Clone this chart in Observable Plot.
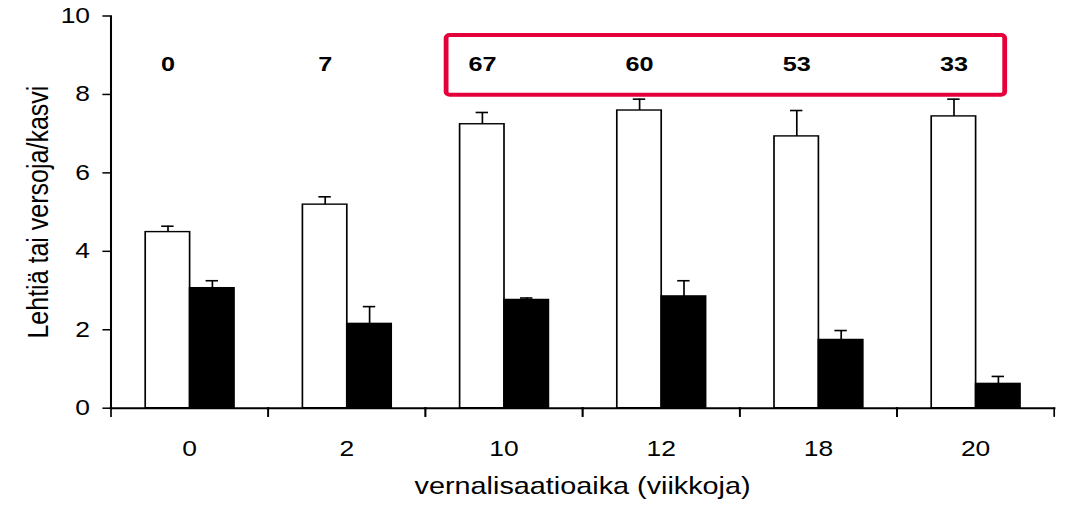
<!DOCTYPE html>
<html>
<head>
<meta charset="utf-8">
<script src="https://cdn.jsdelivr.net/npm/d3@7"></script>
<script src="https://cdn.jsdelivr.net/npm/@observablehq/plot@0.6"></script>
<style>
  html, body { margin: 0; padding: 0; background: #fff; }
  #chart svg { display: block; }
</style>
</head>
<body>
<div id="chart"></div>
<script>
// ---- data ----
const groups = ["0", "2", "10", "12", "18", "20"];
const seriesNames = ["lehtiä", "versoja"];
const whiteValues = [4.49, 5.19, 7.24, 7.59, 6.93, 7.44];
const whiteErrors = [0.15, 0.20, 0.30, 0.29, 0.66, 0.44];
const blackValues = [3.06, 2.15, 2.76, 2.85, 1.74, 0.62];
const blackErrors = [0.19, 0.44, 0.05, 0.40, 0.24, 0.19];
const percentLabels = ["0", "7", "67", "60", "53", "33"];
const boxedGroups = ["10", "20"];
const yTicks = [0, 2, 4, 6, 8, 10];
const yTitle = "Lehtiä tai versoja/kasvi";
const xTitle = "vernalisaatioaika (viikkoja)";

// ---- tables built from the arrays ----
const rows = [];
groups.forEach((g, i) => {
  rows.push({group: g, series: seriesNames[0], value: whiteValues[i], err: whiteErrors[i]});
  rows.push({group: g, series: seriesNames[1], value: blackValues[i], err: blackErrors[i]});
});
const labelRows = groups.map((g, i) => ({group: g, label: percentLabels[i]}));
const boxRows = [{group: boxedGroups[0]}];

// ---- layout (the picture is drawn 1.2x narrower, then stretched horizontally) ----
const stretch = 1.2;
const outerWidth = 1066, height = 511;
const width = outerWidth / stretch;
const marginLeft = 108 / stretch, marginRight = 10 / stretch, marginTop = 15.5, marginBottom = 103.3;
const plotH = height - marginTop - marginBottom;
const labelY = 8.78, boxLow = 7.98, boxHigh = 9.5;
const red = "#e4003b";

const chart = Plot.plot({
  width, height, marginLeft, marginRight, marginTop, marginBottom,
  style: {fontFamily: "'Liberation Sans', Arial, sans-serif", fontSize: "22px", color: "black", background: "white", overflow: "visible"},
  fx: {domain: groups, padding: 0, axis: null},
  x: {domain: seriesNames, paddingInner: 0, paddingOuter: 0.736, axis: null},
  y: {domain: [0, 10], axis: null},
  color: {domain: seriesNames, range: ["white", "black"]},
  marks: [
    Plot.axisY({ticks: yTicks, tickSize: 8 / stretch, tickPadding: 10.8, stroke: "black", strokeWidth: 1.5,
      fill: "black", fontSize: 22, label: null}),
    Plot.axisY({ticks: [], fill: "black", fontSize: 25,
      label: yTitle, labelAnchor: "center", labelArrow: "none", labelOffset: 70}),
    Plot.axisFx({anchor: "bottom", tickSize: 0, tickPadding: 32, fill: "black", fontSize: 22, label: null}),
    Plot.axisFx({anchor: "bottom", ticks: [], fill: "black", fontSize: 24,
      label: xTitle, labelAnchor: "center", labelArrow: "none", labelOffset: 86}),
    Plot.ruleX(rows, {fx: "group", x: "series", y1: "value", y2: d => d.value + d.err, stroke: "black", strokeWidth: 1.4}),
    Plot.tickY(rows, {fx: "group", x: "series", y: d => d.value + d.err, insetLeft: 16 / stretch, insetRight: 16 / stretch, stroke: "black", strokeWidth: 1.6}),
    Plot.barY(rows, {fx: "group", x: "series", y: "value", fill: "series", stroke: "black", strokeWidth: 1.4}),
    Plot.frame({anchor: "bottom", stroke: "black", strokeWidth: 2}),
    Plot.frame({anchor: "left", facetAnchor: "left", stroke: "black", strokeWidth: 1.7}),
    Plot.frame({anchor: "left", insetTop: plotH, insetBottom: -8, stroke: "black", strokeWidth: 1.4}),
    Plot.frame({anchor: "right", insetTop: plotH, insetBottom: -8, stroke: "black", strokeWidth: 1.4}),
    Plot.text(labelRows, {fx: "group", x: () => seriesNames[0], y: labelY, text: "label",
      fontWeight: "bold", fontSize: 21, fill: "black"}),
    Plot.barY(boxRows, {fx: "group", x: () => seriesNames[0], y1: boxLow, y2: boxHigh,
      insetLeft: -13.5 / stretch, insetRight: -500.7 / stretch, fill: "none", stroke: red, strokeWidth: 4, rx: 3})
  ]
});
chart.setAttribute("width", outerWidth);
chart.setAttribute("height", height);
chart.setAttribute("preserveAspectRatio", "none");
chart.style.width = outerWidth + "px";
chart.style.height = height + "px";
chart.style.maxWidth = "none";
document.getElementById("chart").appendChild(chart);
</script>
</body>
</html>
